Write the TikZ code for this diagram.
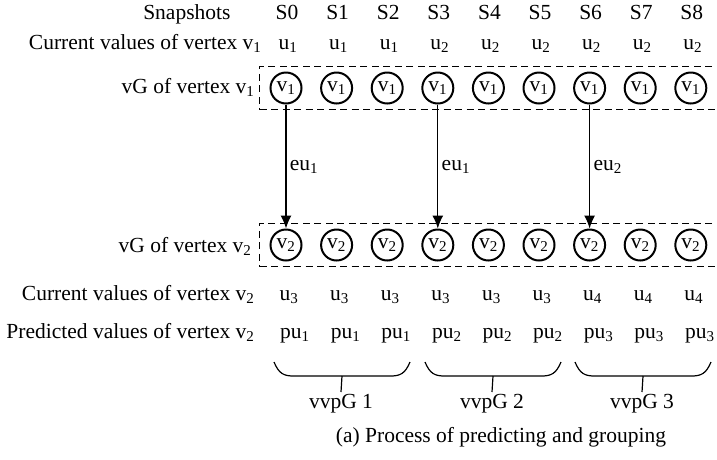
\documentclass[tikz,border=0pt]{standalone}
\usepackage{fontspec}
\setmainfont{Liberation Serif}
\usetikzlibrary{arrows.meta,fit}

\tikzset{
  cell/.style={text height=14pt,text depth=4pt},
  vtx/.style={draw,circle,line width=2pt,minimum size=31pt,inner sep=0pt},
  grp/.style={draw,line width=1.4pt,dash pattern=on 7pt off 4.5pt,inner xsep=10pt,inner ysep=5pt},
  rowlbl/.style={cell,anchor=east},
  arr/.style={-{Latex[length=13pt,width=11pt]},line width=1.2pt},
  brc/.style={line width=1.2pt},
}

\begin{document}
\begin{tikzpicture}[x=1pt,y=-1pt,font=\fontsize{21.5}{24}\selectfont]
  \useasboundingbox (0,0) rectangle (717,459);
  % row labels
  \node[rowlbl] (snap) at (234,14) {Snapshots};
  \node[rowlbl] (cur1) at (265,44) {Current values of vertex v\textsubscript{1}};
  \node[rowlbl] (vg1) at (258,88) {vG of vertex v\textsubscript{1}};
  \node[rowlbl] (vg2) at (255,247) {vG of vertex v\textsubscript{2}};
  \node[rowlbl] (cur2) at (258,295) {Current values of vertex v\textsubscript{2}};
  \node[rowlbl] (pred) at (258,333) {Predicted values of vertex v\textsubscript{2}};
  % one column per snapshot
  \foreach \i/\a/\b/\p in {0/1/3/1,1/1/3/1,2/1/3/1,3/2/3/2,4/2/3/2,5/2/3/2,6/2/4/3,7/2/4/3,8/2/4/3} {
    \node[cell] (s\i) at (287+50.6*\i,14) {S\i};
    \node[cell] (u\i) at (288+50.6*\i,44) {u\textsubscript{\a}};
    \node[vtx] (a\i) at (286+50.6*\i,88) {v\textsubscript{1}};
    \node[vtx] (b\i) at (286+50.6*\i,245) {v\textsubscript{2}};
    \node[cell] (w\i) at (289+50.6*\i,295) {u\textsubscript{\b}};
    \node[cell] (p\i) at (295+50.6*\i,333) {pu\textsubscript{\p}};
  }
  \node[grp,fit=(a0)(a8)] (box1) {};
  \node[grp,fit=(b0)(b8)] (box2) {};
  \draw[arr] (a0) -- (b0) node[midway,right] {eu\textsubscript{1}};
  \draw[arr] (a3) -- (b3) node[midway,right] {eu\textsubscript{1}};
  \draw[arr] (a6) -- (b6) node[midway,right] {eu\textsubscript{2}};
  % groups
  \foreach \c/\k in {342/1,493/2,643/3} {
    \draw[brc] (\c-68,362) .. controls (\c-63,374) and (\c-58,376) .. (\c-48,376)
      -- (\c+48,376) .. controls (\c+58,376) and (\c+63,374) .. (\c+68,362);
    \node[cell,anchor=north,inner sep=2pt] (grp\k) at (\c-1,392) {vvpG \k};
    \draw[brc] (\c,376) -- (grp\k.north);
  }
  \node[cell] (cap) at (501,437) {(a) Process of predicting and grouping};
\end{tikzpicture}
\end{document}
